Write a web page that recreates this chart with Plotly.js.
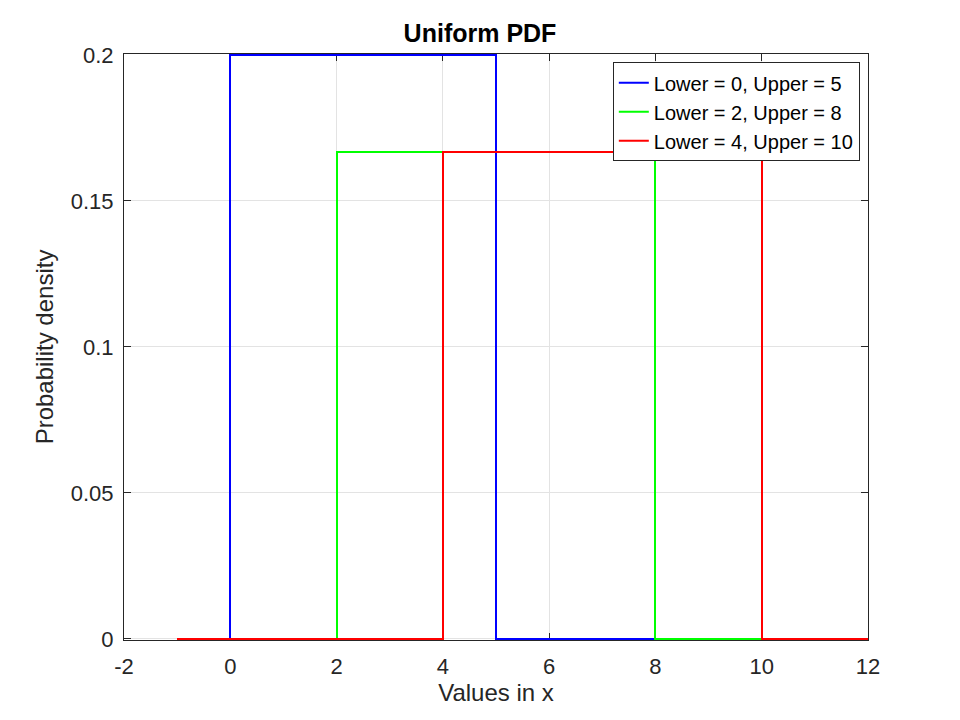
<!DOCTYPE html>
<html>
<head>
<meta charset="utf-8">
<script src="https://cdn.plot.ly/plotly-3.0.1.min.js"></script>
<style>
  html, body { margin: 0; padding: 0; background: #fff; }
  #plot { width: 960px; height: 720px; }
  .scatterlayer path.js-line { shape-rendering: crispEdges; }
</style>
</head>
<body>
<div id="plot"></div>
<script>
// uniform pdf breakpoints, x from -1 to 12
var names = ["Lower = 0, Upper = 5", "Lower = 2, Upper = 8", "Lower = 4, Upper = 10"];
var colors = ["#0000ff", "#00ff00", "#ff0000"];

var x1 = [-1, 0, 0, 5, 5, 12];
var y1 = [0, 0, 0.2, 0.2, 0, 0];
var x2 = [-1, 2, 2, 8, 8, 12];
var y2 = [0, 0, 0.1667, 0.1667, 0, 0];
var x3 = [-1, 4, 4, 10, 10, 12];
var y3 = [0, 0, 0.1667, 0.1667, 0, 0];

var xs = [x1, x2, x3];
var ys = [y1, y2, y3];

var xTicks = [-2, 0, 2, 4, 6, 8, 10, 12];
var xTickText = ["-2", "0", "2", "4", "6", "8", "10", "12"];
var yTicks = [0, 0.05, 0.1, 0.15, 0.2];
var yTickText = ["0", "0.05", "0.1", "0.15", "0.2"];

var data = [];
for (var i = 0; i < 3; i++) {
    data.push({
        x: xs[i],
        y: ys[i],
        name: names[i],
        type: "scatter",
        mode: "lines",
        line: {color: colors[i], width: 2}
    });
}

var fnt = "Liberation Sans, Arial, sans-serif";
var axisCommon = {
    showline: true,
    mirror: "ticks",
    linecolor: "#262626",
    linewidth: 1,
    ticks: "inside",
    ticklen: 7,
    tickcolor: "#262626",
    showgrid: true,
    gridcolor: "#e3e3e3",
    zeroline: false,
    layer: "below traces",
    tickfont: {family: fnt, size: 22, color: "#262626"}
};

var layout = {
    width: 960,
    height: 720,
    paper_bgcolor: "#fff",
    plot_bgcolor: "#fff",
    margin: {l: 124, r: 92, t: 54, b: 80},
    showlegend: true,
    title: {
        text: "<b>Uniform PDF</b>",
        font: {family: fnt, size: 25, color: "#000"},
        x: 0.5, xanchor: "center",
        y: 0.954, yanchor: "middle"
    },
    xaxis: Object.assign({}, axisCommon, {
        range: [-2, 12],
        tickvals: xTicks,
        ticktext: xTickText,
        ticklabelstandoff: 7,
        title: {text: "Values in x", font: {family: fnt, size: 24, color: "#262626"}, standoff: 0}
    }),
    yaxis: Object.assign({}, axisCommon, {
        range: [-0.0004, 0.2003],
        tickvals: yTicks,
        ticktext: yTickText,
        ticklabelstandoff: 5,
        title: {text: "Probability density", font: {family: fnt, size: 24, color: "#262626"}, standoff: 10}
    }),
    legend: {
        x: 0.989, xanchor: "right",
        y: 0.986, yanchor: "top",
        bgcolor: "#fff",
        bordercolor: "#262626",
        borderwidth: 1,
        font: {family: fnt, size: 20, color: "#000"},
        itemwidth: 30,
        tracegroupgap: 0
    }
};

Plotly.newPlot("plot", data, layout, {displayModeBar: false});
</script>
</body>
</html>
